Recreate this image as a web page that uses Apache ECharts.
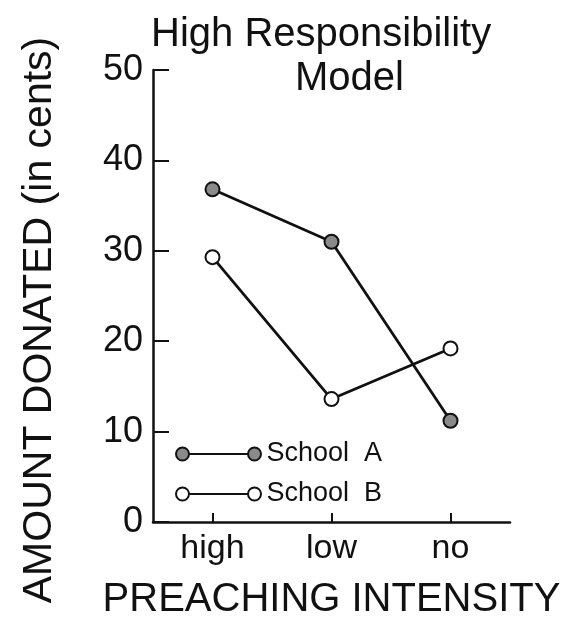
<!DOCTYPE html>
<html>
<head>
<meta charset="utf-8">
<script src="https://cdn.jsdelivr.net/npm/echarts@6/dist/echarts.min.js"></script>
<style>
  html, body { margin: 0; padding: 0; background: #fff; }
  #chart { width: 569px; height: 630px; }
</style>
</head>
<body>
<div id="chart"></div>
<script>
// data
const categories = ['high', 'low', 'no']
const schoolA = [36.8, 31, 11.2]
const schoolB = [29.3, 13.6, 19.2]
const seriesNames = ['School A', 'School B']
const yMin = 0, yMax = 50, yStep = 10

const ink = '#111'
const font = 'Liberation Sans'
// legend sample: circle - line - circle
const legendIcon = 'path://M0,6.5 A6.5,6.5 0 1,1 13,6.5 A6.5,6.5 0 1,1 0,6.5 Z M13,6.5 L72,6.5 M72,6.5 A6.5,6.5 0 1,1 85,6.5 A6.5,6.5 0 1,1 72,6.5 Z'

const chart = echarts.init(document.getElementById('chart'), null, {renderer: 'canvas'})
const option = {
    backgroundColor: '#fff',
    animation: false,
    title: [
        { text: 'High Responsibility', left: 146, top: 10,
          textStyle: { color: ink, fontFamily: font, fontSize: 40, fontWeight: 'normal' } },
        { text: 'Model', left: 290, top: 54,
          textStyle: { color: ink, fontFamily: font, fontSize: 40, fontWeight: 'normal' } }
    ],
    grid: { left: 153, right: 59, top: 70, bottom: 108 },
    legend: {
        orient: 'vertical',
        left: 170, top: 435,
        itemWidth: 86, itemHeight: 13,
        itemGap: 12,
        selectedMode: false,
        formatter: name => name.replace(' ', '  '),
        textStyle: { color: ink, fontFamily: font, fontSize: 27, lineHeight: 28 },
        data: [
            { name: seriesNames[0], icon: legendIcon,
              itemStyle: { color: '#8a8a8a', borderColor: ink, borderWidth: 2 } },
            { name: seriesNames[1], icon: legendIcon,
              itemStyle: { color: '#fff', borderColor: ink, borderWidth: 2 } }
        ]
    },
    xAxis: {
        type: 'category',
        data: categories,
        boundaryGap: true,
        name: 'PREACHING INTENSITY',
        nameLocation: 'middle',
        nameGap: 58,
        nameTextStyle: { color: ink, fontFamily: font, fontSize: 40 },
        axisLine: { lineStyle: { color: ink, width: 2.5 } },
        axisTick: { show: true, inside: true, alignWithLabel: true, length: 9, lineStyle: { color: ink, width: 2 } },
        axisLabel: { color: ink, fontFamily: font, fontSize: 34, margin: 10 },
        splitLine: { show: false }
    },
    yAxis: {
        type: 'value',
        min: yMin, max: yMax, interval: yStep,
        name: 'AMOUNT DONATED (in cents)',
        nameLocation: 'middle',
        nameRotate: 90,
        nameGap: 93,
        nameTextStyle: { color: ink, fontFamily: font, fontSize: 41, padding: [0, 48, 0, 0] },
        axisLine: { show: true, lineStyle: { color: ink, width: 2.5 } },
        axisTick: { show: true, inside: true, length: 16, lineStyle: { color: ink, width: 2 } },
        axisLabel: { color: ink, fontFamily: font, fontSize: 36, margin: 10 },
        splitLine: { show: false }
    },
    series: [
        {
            name: seriesNames[0],
            type: 'line',
            data: schoolA,
            symbol: 'circle',
            symbolSize: 14,
            lineStyle: { color: ink, width: 2.8 },
            itemStyle: { color: '#8a8a8a', borderColor: ink, borderWidth: 2 },
            z: 3
        },
        {
            name: seriesNames[1],
            type: 'line',
            data: schoolB,
            symbol: 'circle',
            symbolSize: 14,
            lineStyle: { color: ink, width: 2.8 },
            itemStyle: { color: '#fff', borderColor: ink, borderWidth: 2 },
            z: 2
        }
    ]
}
chart.setOption(option)
</script>
</body>
</html>
